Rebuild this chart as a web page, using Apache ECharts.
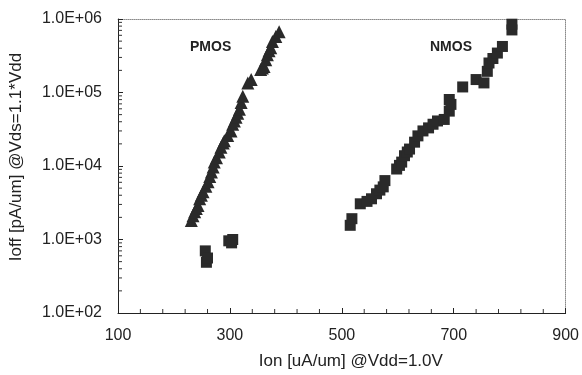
<!DOCTYPE html>
<html><head><meta charset="utf-8">
<script src="https://cdn.jsdelivr.net/npm/echarts@6/dist/echarts.min.js"></script>
<style>html,body{margin:0;padding:0;background:#fff}#c{width:582px;height:375px}</style>
</head><body><div id="c"></div>
<script>
const xTicks = [100, 300, 500, 700, 900];
const yTicks = [1e2, 1e3, 1e4, 1e5, 1e6];
const pmosTri = [
  [231,1820],[234,2100],[237,2390],[240,2650],[243,2910],[246,3580],[249,4000],[252,4450],
  [257,5300],[261,6100],[264,7200],[267,8300],[270,9700],[272,11300],[276,13000],
  [281,15500],[284,18000],[288,20500],[290,22000],[296,26000],[302,30000],[305,37000],
  [308,41000],[311,46000],[314,52000],[317,59000],[320,73000],[323,89000],
  [332,135000],[338,150000],[355,205000],[358,215000],[361,226000],[364,280000],
  [367,326000],[370,370000],[373,406000],[376,493000],[382,580000],[388,673000]
];
const pmosSq = [[256,700],[258,490],[260,560],[298,960],[305,1000],[303,900]];
const nmosSq = [
  [515,1560],[518,1920],[533,3060],[545,3300],[553,3580],[562,4190],[568,4700],
  [574,5200],[577,6330],[598,9100],[603,10200],[607,11300],[612,13800],[617,15500],
  [621,17000],[630,21100],[636,25700],[645,30000],[655,33000],[663,37000],[671,41000],
  [683,43000],[692,55800],[695,68900],[692,80300],[716,119000],[740,150000],
  [754,135000],[760,194000],[763,252000],[770,290000],[778,344000],[787,423000],
  [804,710000],[804,850000]
];
const labels = ['PMOS', 'NMOS'];
const yMinor = [];
for (let d = 100; d < 1e6; d *= 10) for (let k = 2; k <= 9; k++) yMinor.push(d * k);
const xMinor = [];
for (let v = 140; v < 900; v += 40) if ((v - 100) % 200 !== 0) xMinor.push(v);

const chart = echarts.init(document.getElementById('c'));
const fnt = 'Liberation Sans, Arial, sans-serif';
const frame = {show: true, lineStyle: {color: '#8a8a8a', width: 1, type: 'dotted'}};
chart.setOption({
  animation: false,
  grid: {left: 116, right: 15, top: 19, bottom: 60},
  xAxis: [{
    type: 'value', min: 100, max: 900, interval: 200,
    name: 'Ion [uA/um] @Vdd=1.0V', nameLocation: 'middle', nameGap: 40,
    nameTextStyle: {fontFamily: fnt, fontSize: 17, color: '#222', padding: [0, 0, 0, 18]},
    axisLine: {show: true, onZero: false, lineStyle: {color: '#222', width: 1}},
    axisTick: {show: true, inside: true, length: 5, lineStyle: {color: '#222'}},
    axisLabel: {fontFamily: fnt, fontSize: 16, color: '#222', margin: 15},
    splitLine: {show: false}
  }, {
    type: 'value', min: 100, max: 900, interval: 200, position: 'top',
    axisLine: frame, axisTick: {show: false}, axisLabel: {show: false}, splitLine: {show: false}
  }],
  yAxis: [{
    type: 'log', logBase: 10, min: 1e2, max: 1e6,
    name: 'Ioff [pA/um] @Vds=1.1*Vdd', nameLocation: 'middle', nameGap: 93,
    nameTextStyle: {fontFamily: fnt, fontSize: 17, color: '#222', padding: [0, 0, 0, 18]},
    axisLine: {show: true, lineStyle: {color: '#222', width: 1}},
    axisTick: {show: true, inside: true, length: 5, lineStyle: {color: '#222'}},
    axisLabel: {fontFamily: fnt, fontSize: 16, color: '#222', margin: 16,
      formatter: v => '1.0E+' + String(Math.round(Math.log10(v))).padStart(2, '0')},
    splitLine: {show: false}
  }, {
    type: 'log', logBase: 10, min: 1e2, max: 1e6, position: 'right',
    axisLine: frame, axisTick: {show: false}, axisLabel: {show: false}, splitLine: {show: false}
  }],
  graphic: [
    {type: 'text', left: 190, top: 40, style: {text: labels[0], font: 'bold 14px ' + fnt, fill: '#222'}},
    {type: 'text', left: 430, top: 40, style: {text: labels[1], font: 'bold 14px ' + fnt, fill: '#222'}}
  ],
  series: [
    {type: 'custom', silent: true, data: yMinor.map(v => [v]),
      renderItem: (p, api) => {
        const pt = api.coord([100, api.value(0)]);
        return {type: 'line', shape: {x1: pt[0], y1: pt[1], x2: pt[0] + 4, y2: pt[1]}, style: {stroke: '#333', lineWidth: 1}};
      }},
    {type: 'custom', silent: true, data: xMinor.map(v => [v]),
      renderItem: (p, api) => {
        const pt = api.coord([api.value(0), 100]);
        return {type: 'line', shape: {x1: pt[0], y1: pt[1], x2: pt[0], y2: pt[1] - 4}, style: {stroke: '#333', lineWidth: 1}};
      }},
    {type: 'scatter', data: pmosTri, symbol: 'triangle', symbolSize: 13, itemStyle: {color: '#2a2a2a', opacity: 1}},
    {type: 'scatter', data: pmosSq, symbol: 'rect', symbolSize: 11, itemStyle: {color: '#2a2a2a', opacity: 1}},
    {type: 'scatter', data: nmosSq, symbol: 'rect', symbolSize: 11, itemStyle: {color: '#2a2a2a', opacity: 1}}
  ]
});
</script></body></html>
